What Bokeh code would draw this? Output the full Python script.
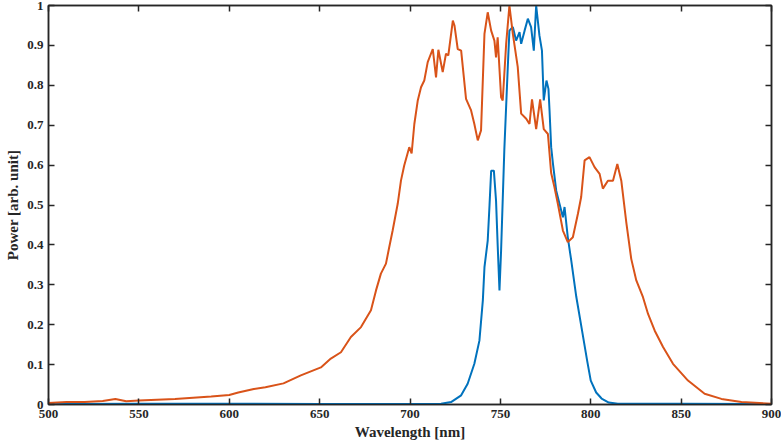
from bokeh.plotting import figure
from bokeh.models import Range1d, LinearAxis, FixedTicker, NumeralTickFormatter, CustomLabelingPolicy
from bokeh.embed import file_html
from bokeh.resources import INLINE

orange_wl = [500, 510, 520, 530, 537, 543, 550, 560, 570, 580, 590, 600, 605, 613.6, 620, 630,
             639.6, 650.7, 656.2, 661.8, 667.3, 672.9, 675.6, 678.4, 681.2, 683.9, 686.7, 688.5,
             690.4, 693.2, 695, 696.8, 699.6, 700.9, 702.4, 704.3, 706.1, 707.9, 709.8, 712.6,
             714.4, 715.7, 718.1, 719.9, 721.2, 723.7, 724.6, 726.4, 728.3, 731.0, 733.8, 735.6,
             737.5, 739.3, 741.2, 743.0, 744.9, 746.7, 747.6, 748.5, 750.4, 751.3, 753.2, 755.0,
             756.9, 759.6, 761.5, 764.3, 766.1, 767.5, 769.8, 772.0, 774.0, 776.3, 778.1, 779.9,
             781.8, 784.6, 787.3, 790.1, 792.9, 794.7, 796.6, 799.3, 802.1, 804.9, 806.7, 809.5,
             812.3, 814.7, 816.9, 819.7, 822.4, 825.2, 828.9, 831.7, 835.4, 840.0, 845.5, 853.8,
             863.0, 872.3, 883.4, 900]
orange_pw = [0.004, 0.006, 0.006, 0.009, 0.014, 0.008, 0.010, 0.012, 0.014, 0.017, 0.020, 0.024,
             0.030, 0.039, 0.043, 0.053, 0.073, 0.093, 0.115, 0.131, 0.169, 0.194, 0.215, 0.236,
             0.286, 0.328, 0.353, 0.394, 0.436, 0.503, 0.561, 0.599, 0.645, 0.629, 0.703, 0.762,
             0.795, 0.812, 0.858, 0.891, 0.820, 0.889, 0.833, 0.879, 0.875, 0.962, 0.950, 0.891,
             0.887, 0.766, 0.737, 0.703, 0.662, 0.687, 0.929, 0.983, 0.937, 0.912, 0.870, 0.920,
             0.770, 0.762, 0.904, 1.0, 0.929, 0.846, 0.729, 0.716, 0.703, 0.765, 0.690, 0.765,
             0.690, 0.678, 0.580, 0.545, 0.503, 0.436, 0.407, 0.419, 0.478, 0.520, 0.612, 0.620,
             0.595, 0.578, 0.541, 0.561, 0.561, 0.603, 0.561, 0.455, 0.365, 0.311, 0.269, 0.227,
             0.185, 0.144, 0.102, 0.060, 0.027, 0.014, 0.006, 0.002]

blue_wl = [500, 550, 600, 650, 700, 717.2, 722.7, 728.3, 731.9, 735.6, 738.4, 740.3, 741.2, 743.0,
           744.0, 744.9, 746.4, 747.6, 748.5, 749.5, 750.4, 752.2, 754.1, 755.0, 756.9, 758.7,
           760.6, 761.5, 763.4, 765.2, 767.0, 768.5, 769.8, 771.6, 773.0, 774.0, 775.5, 776.6,
           777.2, 778.1, 779.1, 780.9, 782.7, 784.6, 785.5, 787.3, 789.2, 792, 795, 798, 800,
           803, 806, 810, 815, 850, 900]
blue_pw = [0.001, 0.002, 0.002, 0.001, 0.001, 0.002, 0.006, 0.023, 0.052, 0.102, 0.160, 0.261,
           0.344, 0.411, 0.50, 0.586, 0.586, 0.511, 0.40, 0.286, 0.386, 0.640, 0.846, 0.937,
           0.946, 0.912, 0.933, 0.904, 0.937, 0.967, 0.946, 0.887, 1.0, 0.925, 0.887, 0.762,
           0.812, 0.791, 0.737, 0.645, 0.603, 0.536, 0.503, 0.469, 0.495, 0.419, 0.361, 0.27,
           0.19, 0.11, 0.06, 0.03, 0.015, 0.005, 0.002, 0.002, 0.001]

x_ticks = [500, 550, 600, 650, 700, 750, 800, 850, 900]
y_ticks = [0, 0.1, 0.2, 0.3, 0.4, 0.5, 0.6, 0.7, 0.8, 0.9, 1.0]

FONT = "Liberation Serif"
AX = "#262626"

p = figure(width=781, height=447, output_backend="svg", toolbar_location=None,
           x_range=Range1d(500, 900), y_range=Range1d(0, 1),
           min_border_left=48, min_border_right=10, min_border_top=5, min_border_bottom=43)
p.grid.visible = False
p.outline_line_color = AX
p.outline_line_width = 1.5

p.line(blue_wl, blue_pw, line_color="#0072BD", line_width=2)
p.line(orange_wl, orange_pw, line_color="#D95319", line_width=2)

no_labels = CustomLabelingPolicy(code="""
    for (const i of Array.from(indices)) {
        indices.unset(i)
    }
    return indices
""")

def style(ax, labels=True):
    ax.axis_line_color = AX
    ax.axis_line_width = 1.5
    ax.major_tick_line_color = AX
    ax.major_tick_line_width = 1.5
    ax.major_tick_in = 6
    ax.major_tick_out = 0
    ax.minor_tick_line_color = None
    if labels:
        ax.major_label_text_font = FONT
        ax.major_label_text_font_style = "bold"
        ax.major_label_text_font_size = "13px"
        ax.major_label_text_color = AX
        ax.axis_label_text_font = FONT
        ax.axis_label_text_font_style = "bold"
        ax.axis_label_text_font_size = "15px"
        ax.axis_label_text_color = AX
    else:
        ax.major_label_text_font_size = "0px"
        ax.major_label_standoff = 0
        ax.major_label_policy = no_labels

xa = p.xaxis[0]
xa.ticker = FixedTicker(ticks=x_ticks)
xa.axis_label = "Wavelength [nm]"
xa.major_label_standoff = 5
xa.axis_label_standoff = 3
style(xa)

ya = p.yaxis[0]
ya.ticker = FixedTicker(ticks=y_ticks)
ya.formatter = NumeralTickFormatter(format="0.[0]")
ya.axis_label = "Power [arb. unit]"
ya.major_label_standoff = 5
ya.axis_label_standoff = 3
style(ya)

top = LinearAxis(ticker=FixedTicker(ticks=x_ticks))
style(top, labels=False)
p.add_layout(top, "above")
right = LinearAxis(ticker=FixedTicker(ticks=y_ticks))
style(right, labels=False)
p.add_layout(right, "right")

open("out.html", "w").write(file_html(p, INLINE))
